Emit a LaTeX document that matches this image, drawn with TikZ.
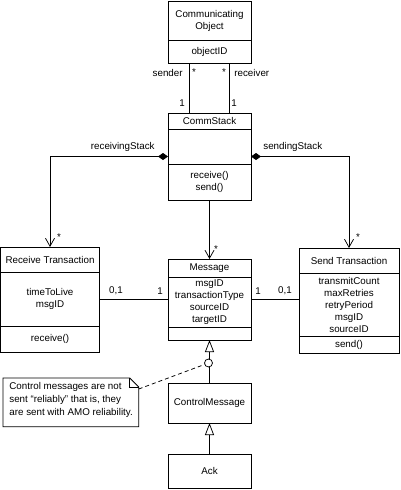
\documentclass[tikz,border=0pt]{standalone}
\usepackage{fontspec}
\setmainfont{Liberation Sans}
\usetikzlibrary{arrows.meta}
\begin{document}
\begin{tikzpicture}[x=1pt,y=-1pt,line width=0.75pt,
  font=\fontsize{9.8}{12}\selectfont,
  box/.style={draw,inner sep=0pt,outer sep=0pt,anchor=north west},
  txt/.style={inner sep=0pt,align=center},
  lbl/.style={inner sep=0pt},
  comp/.style={{Diamond[length=10pt,width=7pt]}-{Straight Barb[length=8pt,width=9pt,line width=0.75pt]}},
  nav/.style={-{Straight Barb[length=8pt,width=9pt,line width=0.75pt]}},
  gen/.style={-{Triangle[open,length=12pt,width=9pt,fill=white]}}]
\useasboundingbox (0,0) rectangle (400,490);

% boxes
\node[box,minimum width=83pt,minimum height=62pt] (co) at (168,1) {};
\node[box,minimum width=83pt,minimum height=87pt] (cs) at (168,113) {};
\node[box,minimum width=99pt,minimum height=105pt] (rt) at (0.5,247) {};
\node[box,minimum width=83pt,minimum height=81pt] (msg) at (168,259) {};
\node[box,minimum width=100pt,minimum height=105pt] (st) at (299,248) {};
\node[box,minimum width=83pt,minimum height=40pt] (cm) at (168,383) {};
\node[box,minimum width=83pt,minimum height=34pt] (ack) at (168,454) {};

% compartments
\draw (co.west |- 0,40) -- (co.east |- 0,40);
\draw (cs.west |- 0,129) -- (cs.east |- 0,129);
\draw (cs.west |- 0,164) -- (cs.east |- 0,164);
\draw (rt.west |- 0,272) -- (rt.east |- 0,272);
\draw (rt.west |- 0,326) -- (rt.east |- 0,326);
\draw (msg.west |- 0,277) -- (msg.east |- 0,277);
\draw (msg.west |- 0,327) -- (msg.east |- 0,327);
\draw (st.west |- 0,273) -- (st.east |- 0,273);
\draw (st.west |- 0,336) -- (st.east |- 0,336);

% texts
\node[txt] (cot) at (209.5,20.5) {Communicating\\Object};
\node[txt] (coa) at (209.5,51.5) {objectID};
\node[txt] (cst) at (209.5,121) {CommStack};
\node[txt] (cso) at (209.5,182) {receive()\\send()};
\node[txt] (rtt) at (50,259.5) {Receive Transaction};
\node[txt] (rta) at (50,299) {timeToLive\\msgID};
\node[txt] (rto) at (50,339) {receive()};
\node[txt] (msgt) at (209.5,268) {Message};
\node[txt] (msga) at (209.5,302) {msgID\\transactionType\\sourceID\\targetID};
\node[txt] (stt) at (349,260.5) {Send Transaction};
\node[txt] (sta) at (349,304.5) {transmitCount\\maxRetries\\retryPeriod\\msgID\\sourceID};
\node[txt] (sto) at (349,344.5) {send()};
\node[txt] (cmt) at (209.5,403) {ControlMessage};
\node[txt] (ackt) at (209.5,471) {Ack};

% sender / receiver
\draw ([xshift=-20.5pt]co.south) -- ([xshift=-20.5pt]cs.north);
\draw ([xshift=19.5pt]co.south) -- ([xshift=19.5pt]cs.north);
\node[lbl,anchor=east] (snd) at (183,73) {sender};
\node[lbl] (s1) at (194,72) {*};
\node[lbl] (s2) at (224,72) {*};
\node[lbl,anchor=west] (rcv) at (234,73) {receiver};
\node[lbl] (o1) at (182,103) {1};
\node[lbl] (o2) at (234,103) {1};

% compositions
\draw[comp] (cs.west) -| (rt.north);
\draw[comp] (cs.east) -| (st.north);
\node[lbl,anchor=east] (rs) at (155,147) {receivingStack};
\node[lbl,anchor=west] (ss) at (263,147) {sendingStack};
\node[lbl] (rstar) at (59,237) {*};
\node[lbl] (sstar) at (358,237) {*};

% navigation CommStack -> Message
\draw[nav] (cs.south) -- (msg.north);
\node[lbl] (mstar) at (216,249) {*};

% associations
\draw (rt.east) -- (msg.west);
\draw (msg.east) -- (msg.east -| st.west);
\node[lbl] (a1) at (116,291) {0,1};
\node[lbl] (a2) at (160,291) {1};
\node[lbl] (a3) at (258,291) {1};
\node[lbl] (a4) at (285,291) {0,1};

% generalizations
\draw[gen] (cm.north) -- (msg.south);
\draw[gen] (ack.north) -- (cm.south);

% note
\node[lbl,anchor=north west,minimum width=135pt,minimum height=48pt] (note) at (3,378) {};
\draw (note.north west) -- ([xshift=-9pt]note.north east) -- ([yshift=-9pt]note.north east)
  -- (note.south east) -- (note.south west) -- cycle;
\draw[line width=0.6pt] ([xshift=-9pt]note.north east) -- ([xshift=-9pt,yshift=-9pt]note.north east) -- ([yshift=-9pt]note.north east);
\node[lbl,anchor=north west,align=left,font=\fontsize{9.8}{13}\selectfont] (notet) at (9,382)
  {Control messages are not\\sent “reliably” that is, they\\are sent with AMO reliability.};
\node[circle,draw,fill=white,inner sep=0pt,minimum size=8pt] (dot) at (208.5,363) {};
\draw[dashed,dash pattern=on 4pt off 3pt] ([yshift=-11pt]note.north east) -- (dot);
\end{tikzpicture}
\end{document}
